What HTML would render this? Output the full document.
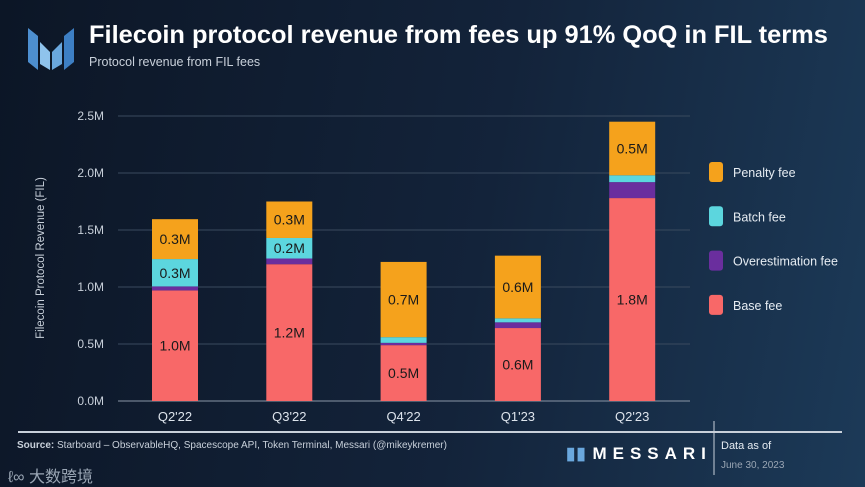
<!DOCTYPE html>
<html><head><meta charset="utf-8"><style>
body{margin:0;width:865px;height:487px;overflow:hidden;background:linear-gradient(100deg,#0c1626 0%,#13233a 55%,#1c3a58 100%);font-family:"Liberation Sans","Noto Sans CJK SC",sans-serif;color:#dde4ec;position:relative}
.t{position:absolute;white-space:nowrap}
</style></head><body>
<svg class="t" style="left:28px;top:28px" width="46" height="42" viewBox="0 0 46 42">
<polygon points="0,0 10,8 10,42 0,34" fill="#4d8fd0"/><polygon points="12,14 22,24 22,42 12,36" fill="#8fc3ec"/><polygon points="24,24 34,14 34,36 24,42" fill="#6aa8de"/><polygon points="36,8 46,0 46,34 36,42" fill="#3d7fc4"/>
</svg>
<div class="t" style="left:89px;top:21px;font-size:25.4px;font-weight:bold;color:#fff">Filecoin protocol revenue from fees up 91% QoQ in FIL terms</div>
<div class="t" style="left:89px;top:55px;font-size:12.5px;color:#c8d0da">Protocol revenue from FIL fees</div>
<svg id="chart" class="t" style="left:0;top:0" width="865" height="487"></svg>
<div class="t" style="left:17px;top:440px;font-size:10px;color:#c8d0da"><b>Source:</b> Starboard – ObservableHQ, Spacescope API, Token Terminal, Messari (@mikeykremer)</div>
<div class="t" style="left:566px;top:444px;font-size:17px;font-weight:bold;letter-spacing:6px;color:#fff"><span style="color:#6aa8de;letter-spacing:1px">▮▮ </span>MESSARI</div>
<div class="t" style="left:721px;top:440px;font-size:11px;color:#e6ecf2">Data as of</div>
<div class="t" style="left:721px;top:460px;font-size:10px;color:#9aa6b4">June 30, 2023</div>
<div class="t" style="left:8px;top:463px;font-size:16px;color:#9aa6b4">ℓ∞ 大数跨境</div>
<script>
const categories=["Q2'22","Q3'22","Q4'22","Q1'23","Q2'23"];
const baseFee=[0.97,1.20,0.49,0.64,1.78];
const overFee=[0.035,0.05,0.02,0.05,0.14];
const batchFee=[0.24,0.18,0.05,0.035,0.06];
const penaltyFee=[0.35,0.32,0.66,0.55,0.47];
const baseLabels=["1.0M","1.2M","0.5M","0.6M","1.8M"];
const batchLabels=["0.3M","0.2M","","",""];
const penaltyLabels=["0.3M","0.3M","0.7M","0.6M","0.5M"];
const yTicks=[0,0.5,1.0,1.5,2.0,2.5];
const yTickLabels=["0.0M","0.5M","1.0M","1.5M","2.0M","2.5M"];
const series=[{n:"Base fee",v:baseFee,c:"#f86868",l:baseLabels},{n:"Overestimation fee",v:overFee,c:"#6a2e9e",l:null},{n:"Batch fee",v:batchFee,c:"#5cd6de",l:batchLabels},{n:"Penalty fee",v:penaltyFee,c:"#f5a21c",l:penaltyLabels}];
const NS="http://www.w3.org/2000/svg",svg=document.getElementById('chart');
const y=v=>401-v*114, x=i=>175+i*114.3, bw=46;
function mk(t,a,p){const e=document.createElementNS(NS,t);for(const k in a)e.setAttribute(k,a[k]);(p||svg).appendChild(e);return e;}
yTicks.forEach((t,i)=>{
 const g=mk('line',{x1:118,x2:690,y1:y(t),y2:y(t),stroke:t===0?'#8a96a6':'#3a4a5e','stroke-width':1});
 
 
 const l=mk('text',{x:104,y:y(t)+4,'text-anchor':'end','font-size':12,fill:'#c8d0da'});l.textContent=yTickLabels[i];
 
 
});
const yt=mk('text',{x:0,y:0,transform:'translate(44,258) rotate(-90)','text-anchor':'middle','font-size':11.5,fill:'#c8d0da'});yt.textContent='Filecoin Protocol Revenue (FIL)';


categories.forEach((c,i)=>{
 let acc=0;
 series.forEach(s=>{
  const v=s.v[i];const r=mk('rect',{x:x(i)-bw/2,y:y(acc+v),width:bw,height:v*114,fill:s.c});
  
  
  if(s.l&&s.l[i]){const t=mk('text',{x:x(i),y:y(acc+v/2)+5,'text-anchor':'middle','font-size':14,fill:'#1a1a1a'});t.textContent=s.l[i];
   
   }
  acc+=v;
 });
 const cl=mk('text',{x:x(i),y:421,'text-anchor':'middle','font-size':13,fill:'#dde4ec'});cl.textContent=c;
 
 
});
[...series].reverse().forEach((s,k)=>{
 const yy=172+k*44.3;
 const r=mk('rect',{x:709,y:yy-10,width:14,height:20,rx:3,fill:s.c});
 
 
 const t=mk('text',{x:733,y:yy+5,'font-size':12.5,fill:'#e6ecf2'});t.textContent=s.n;
 
 
});
const fl=mk('line',{x1:18,x2:842,y1:432,y2:432,stroke:'#c8d0da','stroke-width':2});


const vl=mk('line',{x1:714,x2:714,y1:421,y2:475,stroke:'#c8d0da','stroke-width':1});


</script>
</body></html>
